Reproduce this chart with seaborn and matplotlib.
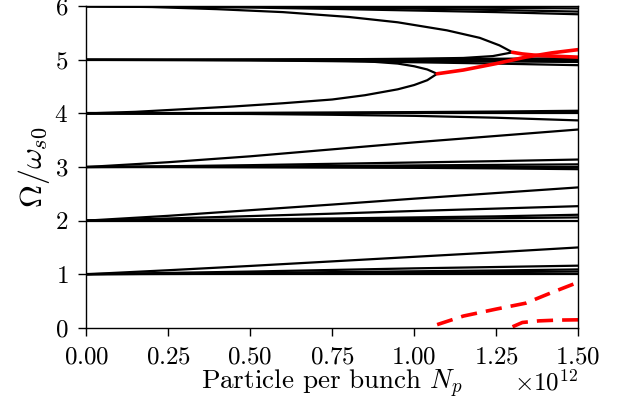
import numpy as np
import matplotlib
matplotlib.use("Agg")
import matplotlib.pyplot as plt
import matplotlib.transforms as mtransforms
import seaborn as sns

# Sampled intensity (units of 1e12 particles per bunch)
x_nodes = [0.0, 0.25, 0.5, 0.75, 1.0, 1.25, 1.5]

# Real part of the coherent frequencies (black), one list per mode, sampled on x_nodes
modes_real = [
    # around 6
    [6.0, 6.0, 6.0, 6.0, 6.0, 6.0, 6.0],
    [6.0, 6.0, 5.995, 5.99, 5.98, 5.97, 5.96],
    [6.0, 5.995, 5.99, 5.975, 5.955, 5.93, 5.90],
    [6.0, 5.99, 5.975, 5.95, 5.92, 5.89, 5.85],
    # around 5
    [5.0, 5.0, 5.0, 5.0, 5.0, 5.0, 5.0],
    [5.0, 5.0, 4.995, 4.99, 4.98, 4.97, 4.96],
    [5.0, 4.995, 4.99, 4.975, 4.955, 4.93, 4.90],
    [5.0, 5.0, 5.005, 5.01, 5.015, 5.02, 5.03],
    # around 4
    [4.0, 4.0, 4.0, 4.0, 4.0, 4.0, 4.0],
    [4.0, 4.0, 4.005, 4.01, 4.015, 4.02, 4.03],
    [4.0, 4.0, 4.01, 4.015, 4.025, 4.035, 4.05],
    [4.0, 3.995, 3.99, 3.975, 3.955, 3.92, 3.87],
    # around 3
    [3.0, 3.0, 3.0, 3.0, 3.0, 3.0, 3.0],
    [3.0, 3.0, 2.995, 2.99, 2.985, 2.975, 2.96],
    [3.0, 3.005, 3.01, 3.02, 3.03, 3.04, 3.05],
    [3.0, 3.015, 3.035, 3.06, 3.085, 3.11, 3.14],
    [3.0, 3.09, 3.20, 3.33, 3.46, 3.58, 3.70],
    # around 2
    [2.0, 2.0, 2.0, 2.0, 2.0, 2.0, 2.0],
    [2.0, 2.005, 2.01, 2.02, 2.03, 2.045, 2.06],
    [2.0, 2.01, 2.025, 2.04, 2.06, 2.08, 2.11],
    [2.0, 2.04, 2.085, 2.13, 2.18, 2.225, 2.27],
    [2.0, 2.09, 2.195, 2.30, 2.41, 2.515, 2.62],
    # around 1
    [1.0, 1.0, 1.0, 1.0, 1.0, 1.0, 1.0],
    [1.0, 1.005, 1.01, 1.02, 1.03, 1.04, 1.05],
    [1.0, 1.01, 1.025, 1.04, 1.055, 1.07, 1.09],
    [1.0, 1.025, 1.05, 1.08, 1.11, 1.135, 1.16],
    [1.0, 1.075, 1.155, 1.24, 1.325, 1.41, 1.50],
]

# Branches that merge into a coupled pair (black, before coupling)
branch_a_x = [0.0, 0.15, 0.3, 0.45, 0.6, 0.75, 0.85, 0.95, 1.0, 1.04, 1.07]
branch_a_y = [4.0, 4.03, 4.08, 4.13, 4.19, 4.26, 4.34, 4.45, 4.53, 4.62, 4.74]
branch_b_x = [0.0, 0.25, 0.5, 0.7, 0.85, 0.95, 1.0, 1.04, 1.07]
branch_b_y = [5.0, 5.0, 4.997, 4.99, 4.975, 4.93, 4.88, 4.82, 4.74]
branch_c_x = [0.0, 0.2, 0.4, 0.6, 0.8, 0.95, 1.1, 1.2, 1.26, 1.30]
branch_c_y = [6.0, 5.985, 5.945, 5.89, 5.80, 5.70, 5.55, 5.41, 5.27, 5.14]
branch_d_x = [0.0, 0.25, 0.5, 0.75, 1.0, 1.15, 1.24, 1.30]
branch_d_y = [5.0, 5.0, 5.005, 5.01, 5.02, 5.035, 5.07, 5.14]

# Unstable coupled modes: real part (solid red) and growth rate (dashed red)
unstable1_x = [1.07, 1.15, 1.25, 1.34, 1.42, 1.5]
unstable1_re = [4.74, 4.81, 4.93, 5.05, 5.13, 5.19]
unstable1_im = [0.06, 0.22, 0.35, 0.46, 0.66, 0.85]
unstable2_x = [1.30, 1.33, 1.38, 1.44, 1.5]
unstable2_re = [5.14, 5.11, 5.08, 5.065, 5.05]
unstable2_im = [0.02, 0.10, 0.13, 0.145, 0.15]

sns.set_theme(style="ticks")
plt.rcParams.update({
    "font.family": ["cmr10", "DejaVu Serif"],
    "mathtext.fontset": "cm",
    "axes.formatter.use_mathtext": True,
    "font.size": 18,
    "axes.labelsize": 19.5,
    "xtick.labelsize": 18,
    "ytick.labelsize": 18,
    "text.color": "black",
    "axes.labelcolor": "black",
    "axes.edgecolor": "black",
    "axes.linewidth": 1.0,
    "xtick.color": "black",
    "ytick.color": "black",
    "xtick.direction": "out",
    "ytick.direction": "out",
    "xtick.major.size": 6,
    "ytick.major.size": 6,
    "xtick.major.width": 1.0,
    "ytick.major.width": 1.0,
    "xtick.major.pad": 7,
    "ytick.major.pad": 7,
})

fig = plt.figure(figsize=(6.25, 4.15), dpi=100)
ax = fig.add_axes([0.138, 0.21, 0.787, 0.775])

scale = 1e12
xn = np.array(x_nodes) * scale
for ys in modes_real:
    sns.lineplot(x=xn, y=ys, ax=ax, color="black", lw=1.6, estimator=None, sort=False)

for bx, by in [(branch_a_x, branch_a_y), (branch_b_x, branch_b_y),
               (branch_c_x, branch_c_y), (branch_d_x, branch_d_y)]:
    sns.lineplot(x=np.array(bx) * scale, y=by, ax=ax, color="black", lw=1.6,
                 estimator=None, sort=False)

for ux, ure, uim in [(unstable1_x, unstable1_re, unstable1_im),
                     (unstable2_x, unstable2_re, unstable2_im)]:
    uxs = np.array(ux) * scale
    sns.lineplot(x=uxs, y=ure, ax=ax, color="red", lw=2.6, estimator=None, sort=False)
    sns.lineplot(x=uxs, y=uim, ax=ax, color="red", lw=2.6, estimator=None, sort=False,
                 linestyle=(0, (4.5, 2.5)))

ax.set_xlim(0, 1.5e12)
ax.set_ylim(0, 6)
ax.set_xticks(np.arange(0, 1.51, 0.25) * scale)
ax.set_yticks(range(0, 7))
ax.ticklabel_format(axis="x", style="sci", scilimits=(0, 0), useMathText=True)
ax.tick_params(top=False, right=False)
for s in ax.spines.values():
    s.set_visible(True)
    s.set_color("black")

ax.set_xlabel(r"Particle per bunch $N_p$", labelpad=0)
ax.set_ylabel(r"$\Omega/\omega_{s0}$", fontsize=23, labelpad=2)

# lift the x10^12 multiplier slightly toward the axis label level
offset = ax.xaxis.get_offset_text()
offset.set_transform(
    mtransforms.blended_transform_factory(ax.transAxes, mtransforms.IdentityTransform())
    + mtransforms.Affine2D().translate(0, 3)
)

fig.savefig("out.png", dpi=100)
